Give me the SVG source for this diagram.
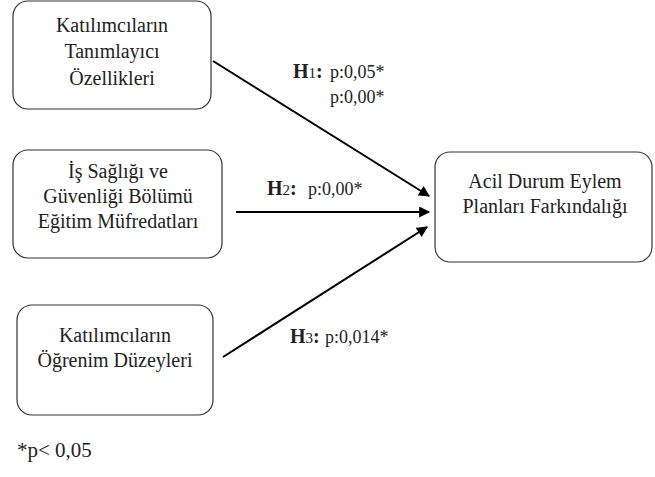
<svg xmlns="http://www.w3.org/2000/svg" width="655" height="477" viewBox="0 0 655 477">
<style>
.box{fill:#fff;stroke:#333;stroke-width:1.2}
.t{font-family:"Liberation Serif","Times New Roman",serif;font-size:20px;fill:#222;text-anchor:middle}
.lbl{font-family:"Liberation Serif","Times New Roman",serif;font-size:18px;fill:#222}
.h{font-weight:bold;font-size:20px}
.sub{font-size:15px;font-weight:normal}
.arr{stroke:#000;stroke-width:2;fill:none;marker-end:url(#ah)}
</style>
<defs>
<marker id="ah" viewBox="0 0 10 10" refX="9" refY="5" markerWidth="6" markerHeight="5.5" markerUnits="strokeWidth" orient="auto">
<path d="M0,0 L10,5 L0,10 Z" fill="#000"/>
</marker>
</defs>
<rect width="655" height="477" fill="#fff"/>
<g id="n1">
<rect class="box" x="13" y="1" width="198" height="108" rx="15"/>
<text class="t" x="112" y="32">Katılımcıların</text>
<text class="t" x="112" y="58">Tanımlayıcı</text>
<text class="t" x="112" y="85">Özellikleri</text>
</g>
<g id="n2">
<rect class="box" x="13" y="150" width="209" height="108" rx="15"/>
<text class="t" x="118" y="178">İş Sağlığı ve</text>
<text class="t" x="118" y="203">Güvenliği Bölümü</text>
<text class="t" x="118" y="228">Eğitim Müfredatları</text>
</g>
<g id="n3">
<rect class="box" x="17" y="305" width="196" height="110" rx="15"/>
<text class="t" x="115" y="342">Katılımcıların</text>
<text class="t" x="115" y="367">Öğrenim Düzeyleri</text>
</g>
<g id="n4">
<rect class="box" x="435" y="152" width="217" height="110" rx="15"/>
<text class="t" x="545" y="188">Acil Durum Eylem</text>
<text class="t" x="545" y="213">Planları Farkındalığı</text>
</g>
<g id="connectors">
<line class="arr" x1="213" y1="61" x2="429" y2="196"/>
<line class="arr" x1="236" y1="212" x2="429" y2="212"/>
<line class="arr" x1="223" y1="357" x2="427" y2="227"/>
</g>
<g id="labels">
<text class="lbl" x="293" y="78"><tspan class="h">H<tspan class="sub">1</tspan>:</tspan><tspan x="330">p:0,05*</tspan></text>
<text class="lbl" x="330" y="103">p:0,00*</text>
<text class="lbl" x="267" y="195"><tspan class="h">H<tspan class="sub">2</tspan>:</tspan><tspan x="308">p:0,00*</tspan></text>
<text class="lbl" x="290" y="343"><tspan class="h">H<tspan class="sub">3</tspan>:</tspan><tspan x="325">p:0,014*</tspan></text>
<text class="lbl" x="17" y="457" style="font-size:21px">*p&lt; 0,05</text>
</g>
</svg>
